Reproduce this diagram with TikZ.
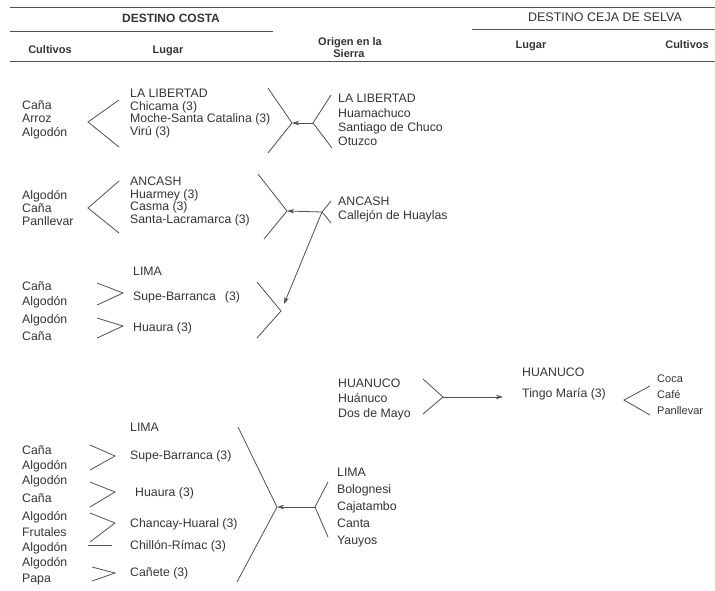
\documentclass[tikz,border=0pt]{standalone}
\usepackage{fontspec}
\setmainfont{Liberation Sans}
\usetikzlibrary{arrows.meta}
\definecolor{ink}{HTML}{353535}
\definecolor{ink2}{HTML}{505050}
\tikzset{
  txt/.style={anchor=base west, inner sep=0pt, text=ink, font=\fontsize{12.3}{14}\selectfont},
  small/.style={anchor=base west, inner sep=0pt, text=ink, font=\fontsize{11}{13}\selectfont},
  hd/.style={anchor=base, inner sep=0pt, text=ink, font=\bfseries\fontsize{11}{13}\selectfont},
  ln/.style={draw=ink2, line width=0.8pt},
  rule/.style={draw=ink2, line width=1pt},
  arr/.style={draw=ink2, line width=0.8pt, -{Stealth[length=7pt,width=4.5pt,inset=2pt]}},
}
\begin{document}
\begin{tikzpicture}[x=1pt,y=-1pt]
\useasboundingbox[fill=white] (0,0) rectangle (715,590);

% ---------- header ----------
\coordinate (r1a) at (10,7);   \coordinate (r1b) at (715,7);
\coordinate (r2a) at (10,31);  \coordinate (r2b) at (273,31);
\coordinate (r3a) at (472,29); \coordinate (r3b) at (715,29);
\coordinate (r4a) at (10,61);  \coordinate (r4b) at (715,61);
\draw[rule] (r1a) -- (r1b);
\draw[rule] (r2a) -- (r2b);
\draw[rule] (r3a) -- (r3b);
\draw[rule] (r4a) -- (r4b);
\node[hd, font=\bfseries\fontsize{12}{14}\selectfont] (hcosta) at (171,22.5) {DESTINO COSTA};
\node[hd, font=\fontsize{12.5}{14}\selectfont] (hselva) at (605,21.5) {DESTINO CEJA DE SELVA};
\node[hd] (hcultA) at (50,53) {Cultivos};
\node[hd] (hlugA) at (168,53) {Lugar};
\node[hd] (horigA) at (350,45) {Origen en la};
\node[hd] (horigB) at (349,57.5) {Sierra};
\node[hd] (hlugB) at (531,48) {Lugar};
\node[hd] (hcultB) at (687,48) {Cultivos};

% ---------- group 1: La Libertad ----------
\node[txt] (g1c1) at (22,109) {Caña};
\node[txt] (g1c2) at (22,122) {Arroz};
\node[txt] (g1c3) at (22,136) {Algodón};
\node[txt] (g1p0) at (130,97) {LA LIBERTAD};
\node[txt] (g1p1) at (130,110) {Chicama (3)};
\node[txt] (g1p2) at (130,122) {Moche-Santa Catalina (3)};
\node[txt] (g1p3) at (130,135) {Virú (3)};
\node[txt] (g1s0) at (338,102) {LA LIBERTAD};
\node[txt] (g1s1) at (338,117) {Huamachuco};
\node[txt] (g1s2) at (338,131) {Santiago de Chuco};
\node[txt] (g1s3) at (338,145) {Otuzco};
\coordinate (g1la) at (119,100); \coordinate (g1lt) at (88,122); \coordinate (g1lb) at (119,147);
\draw[ln] (g1la) -- (g1lt) -- (g1lb);
\coordinate (g1ma) at (268,88); \coordinate (g1mt) at (292,123); \coordinate (g1mb) at (268,153);
\draw[ln] (g1ma) -- (g1mt) -- (g1mb);
\coordinate (g1ra) at (331,95); \coordinate (g1rt) at (313,123); \coordinate (g1rb) at (332,148);
\draw[ln] (g1ra) -- (g1rt) -- (g1rb);
\draw[arr] (g1rt) -- (g1mt);

% ---------- group 2: Ancash ----------
\node[txt] (g2c1) at (22,199) {Algodón};
\node[txt] (g2c2) at (22,212) {Caña};
\node[txt] (g2c3) at (22,225) {Panllevar};
\node[txt] (g2p0) at (130,185) {ANCASH};
\node[txt] (g2p1) at (130,198) {Huarmey (3)};
\node[txt] (g2p2) at (130,210) {Casma (3)};
\node[txt] (g2p3) at (130,223) {Santa-Lacramarca (3)};
\node[txt] (g2s0) at (338,205) {ANCASH};
\node[txt] (g2s1) at (338,219) {Callejón de Huaylas};
\coordinate (g2la) at (119,181); \coordinate (g2lt) at (88,208); \coordinate (g2lb) at (119,233);
\draw[ln] (g2la) -- (g2lt) -- (g2lb);
\coordinate (g2ma) at (258,174); \coordinate (g2mt) at (287,211); \coordinate (g2mb) at (264,239);
\draw[ln] (g2ma) -- (g2mt) -- (g2mb);
\coordinate (g2ra) at (331,201); \coordinate (g2rt) at (322,212); \coordinate (g2rb) at (331,223);
\draw[ln] (g2ra) -- (g2rt) -- (g2rb);
\draw[arr] (g2rt) -- (g2mt);

% ---------- group 3: Lima (top) ----------
\node[txt] (g3p0) at (133,275) {LIMA};
\node[txt] (g3c1) at (22,290) {Caña};
\node[txt] (g3c2) at (22,305) {Algodón};
\node[txt] (g3c3) at (22,323) {Algodón};
\node[txt] (g3c4) at (22,340) {Caña};
\node[txt] (g3p1) at (133,300) {Supe-Barranca\hspace{9pt}(3)};
\node[txt] (g3p2) at (133,331) {Huaura (3)};
\coordinate (g3aa) at (97,283); \coordinate (g3at) at (123,293); \coordinate (g3ab) at (97,305);
\draw[ln] (g3aa) -- (g3at) -- (g3ab);
\coordinate (g3ba) at (97,318); \coordinate (g3bt) at (123,326); \coordinate (g3bb) at (97,338);
\draw[ln] (g3ba) -- (g3bt) -- (g3bb);
\coordinate (g3ma) at (257,282); \coordinate (g3mt) at (281,311); \coordinate (g3mb) at (257,338);
\draw[ln] (g3ma) -- (g3mt) -- (g3mb);
\coordinate (g3end) at (284,304);
\draw[arr] (g2rt) -- (g3end);

% ---------- group 4: Huanuco ----------
\node[txt] (g4s0) at (338,387) {HUANUCO};
\node[txt] (g4s1) at (338,402) {Huánuco};
\node[txt] (g4s2) at (338,417) {Dos de Mayo};
\node[txt] (g4p0) at (522,376) {HUANUCO};
\node[txt] (g4p1) at (522,397) {Tingo María (3)};
\node[small] (g4c1) at (657,382) {Coca};
\node[small] (g4c2) at (657,398) {Café};
\node[small] (g4c3) at (657,414) {Panllevar};
\coordinate (g4la) at (423,379); \coordinate (g4lt) at (443,397); \coordinate (g4lb) at (423,414);
\draw[ln] (g4la) -- (g4lt) -- (g4lb);
\coordinate (g4end) at (503,397);
\draw[arr] (g4lt) -- (g4end);
\coordinate (g4ra) at (650,386); \coordinate (g4rt) at (624,400); \coordinate (g4rb) at (650,415);
\draw[ln] (g4ra) -- (g4rt) -- (g4rb);

% ---------- group 5: Lima (bottom) ----------
\node[txt] (g5p0) at (130,431) {LIMA};
\node[txt] (g5c1) at (22,454) {Caña};
\node[txt] (g5c2) at (22,469) {Algodón};
\node[txt] (g5c3) at (22,484) {Algodón};
\node[txt] (g5c4) at (22,502) {Caña};
\node[txt] (g5c5) at (22,520) {Algodón};
\node[txt] (g5c6) at (22,536) {Frutales};
\node[txt] (g5c7) at (22,551) {Algodón};
\node[txt] (g5c8) at (22,566) {Algodón};
\node[txt] (g5c9) at (22,582) {Papa};
\node[txt] (g5p1) at (130,459) {Supe-Barranca (3)};
\node[txt] (g5p2) at (135,496) {Huaura (3)};
\node[txt] (g5p3) at (130,527) {Chancay-Huaral (3)};
\node[txt] (g5p4) at (130,549) {Chillón-Rímac (3)};
\node[txt] (g5p5) at (130,576) {Cañete (3)};
\node[txt] (g5s0) at (337,476) {LIMA};
\node[txt] (g5s1) at (337,493) {Bolognesi};
\node[txt] (g5s2) at (337,510) {Cajatambo};
\node[txt] (g5s3) at (337,527) {Canta};
\node[txt] (g5s4) at (337,544) {Yauyos};
\coordinate (g5aa) at (90,445); \coordinate (g5at) at (115,456); \coordinate (g5ab) at (90,470);
\draw[ln] (g5aa) -- (g5at) -- (g5ab);
\coordinate (g5ba) at (90,482); \coordinate (g5bt) at (115,492); \coordinate (g5bb) at (90,507);
\draw[ln] (g5ba) -- (g5bt) -- (g5bb);
\coordinate (g5ca) at (90,513); \coordinate (g5ct) at (115,523); \coordinate (g5cb) at (90,542);
\draw[ln] (g5ca) -- (g5ct) -- (g5cb);
\coordinate (g5da) at (88,545); \coordinate (g5db) at (112,545);
\draw[ln] (g5da) -- (g5db);
\coordinate (g5ea) at (92,567); \coordinate (g5et) at (115,573); \coordinate (g5eb) at (92,581);
\draw[ln] (g5ea) -- (g5et) -- (g5eb);
\coordinate (g5ma) at (238,427); \coordinate (g5mt) at (277,507); \coordinate (g5mb) at (237,582);
\draw[ln] (g5ma) -- (g5mt) -- (g5mb);
\coordinate (g5ra) at (328,482); \coordinate (g5rt) at (315,507); \coordinate (g5rb) at (328,537);
\draw[ln] (g5ra) -- (g5rt) -- (g5rb);
\draw[arr] (g5rt) -- (g5mt);
\end{tikzpicture}
\end{document}
